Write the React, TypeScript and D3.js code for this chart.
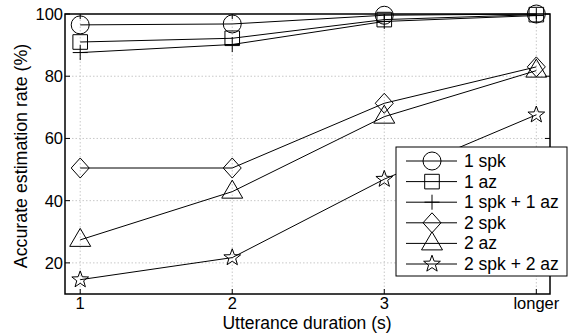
import React from 'react';
import * as d3 from 'd3';

const categories = ['1', '2', '3', 'longer'];
const yTicks = [20, 40, 60, 80, 100];

const oneSpk = [96.5, 96.8, 99.6, 100];
const oneAz = [91.0, 92.2, 98.2, 99.8];
const oneSpkOneAz = [87.6, 90.2, 97.6, 99.5];
const twoSpk = [50.5, 50.5, 71.3, 83.0];
const twoAz = [27.4, 42.9, 67.0, 81.8];
const twoSpkTwoAz = [14.6, 21.7, 46.9, 67.6];

const seriesNames = ['1 spk', '1 az', '1 spk + 1 az', '2 spk', '2 az', '2 spk + 2 az'];
const seriesValues = [oneSpk, oneAz, oneSpkOneAz, twoSpk, twoAz, twoSpkTwoAz];
const markerKinds = ['circle', 'square', 'plus', 'diamond', 'triangle', 'star'];

const W = 568;
const H = 334;
const margin = { left: 65, right: 18, top: 14, bottom: 40 };
const font = '"Liberation Sans", Arial, Helvetica, sans-serif';

function markerPath(kind: string): string {
  switch (kind) {
    case 'circle': {
      const p = d3.path();
      p.arc(0, 0, 9, 0, Math.PI * 2);
      return p.toString();
    }
    case 'square':
      return 'M-7.3,-7.3H7.3V7.3H-7.3Z';
    case 'plus':
      return 'M-7.5,0H7.5M0,-7.5V7.5';
    case 'diamond':
      return 'M0,-10L9,0L0,10L-9,0Z';
    case 'triangle':
      return 'M0,-11.5L10.5,6.5L-10.5,6.5Z';
    case 'star': {
      const p = d3.path();
      for (let i = 0; i < 10; i++) {
        const r = i % 2 === 0 ? 8.8 : 3.6;
        const a = -Math.PI / 2 + (i * Math.PI) / 5;
        const px = r * Math.cos(a);
        const py = r * Math.sin(a);
        if (i === 0) p.moveTo(px, py);
        else p.lineTo(px, py);
      }
      p.closePath();
      return p.toString();
    }
  }
  return '';
}

export default function App() {
  const x = d3.scaleLinear().domain([0.9, 4.09]).range([margin.left, W - margin.right]);
  const y = d3.scaleLinear().domain([10, 100]).range([H - margin.bottom, margin.top]);
  const line = d3
    .line<number>()
    .x((_, i) => x(i + 1))
    .y((d) => y(d));

  const x0 = margin.left;
  const x1 = W - margin.right;
  const y0 = H - margin.bottom;
  const y1 = margin.top;

  const legend = { x: 396, y: 147, w: 171, h: 129, row: 20.6 };

  return (
    <svg
      width={W}
      height={H}
      style={{ position: 'absolute', left: 0, top: 0, background: '#fff' }}
      fontFamily={font}
    >
      {/* grid */}
      {categories.map((c, i) => (
        <line
          key={'gx' + c}
          x1={x(i + 1)}
          x2={x(i + 1)}
          y1={y0}
          y2={y1}
          stroke="#c8c8c8"
          strokeDasharray="1.5,2"
        />
      ))}
      {yTicks.slice(0, -1).map((t) => (
        <line
          key={'gy' + t}
          x1={x0}
          x2={x1}
          y1={y(t)}
          y2={y(t)}
          stroke="#c8c8c8"
          strokeDasharray="1.5,2"
        />
      ))}

      {/* ticks */}
      {categories.map((c, i) => (
        <g key={'tx' + c}>
          <line x1={x(i + 1)} x2={x(i + 1)} y1={y0} y2={y0 - 5} stroke="#000" />
          <line x1={x(i + 1)} x2={x(i + 1)} y1={y1} y2={y1 + 5} stroke="#000" />
          <text x={x(i + 1)} y={309} fontSize={16.5} textAnchor="middle">
            {c}
          </text>
        </g>
      ))}
      {yTicks.map((t) => (
        <g key={'ty' + t}>
          <line x1={x0} x2={x0 + 5} y1={y(t)} y2={y(t)} stroke="#000" />
          <line x1={x1} x2={x1 - 5} y1={y(t)} y2={y(t)} stroke="#000" />
          <text x={63} y={y(t) + 6} fontSize={16.5} textAnchor="end">
            {t}
          </text>
        </g>
      ))}

      {/* series */}
      {seriesValues.map((vals, si) => (
        <g key={'s' + si}>
          <path d={line(vals) || ''} fill="none" stroke="#000" strokeWidth={1} />
          {vals.map((v, i) => (
            <path
              key={i}
              d={markerPath(markerKinds[si])}
              transform={`translate(${x(i + 1)},${y(v)})`}
              fill="none"
              stroke="#000"
              strokeWidth={1}
            />
          ))}
        </g>
      ))}

      {/* frame */}
      <rect x={x0} y={y1} width={x1 - x0} height={y0 - y1} fill="none" stroke="#000" strokeWidth={1.5} />

      {/* axis labels */}
      <text x={307} y={328.5} fontSize={17.5} textAnchor="middle">
        Utterance duration (s)
      </text>
      <text
        transform={`translate(27,156) rotate(-90)`}
        fontSize={17.8}
        textAnchor="middle"
      >
        Accurate estimation rate (%)
      </text>

      {/* legend */}
      <rect x={legend.x} y={legend.y} width={legend.w} height={legend.h} fill="#fff" stroke="#000" strokeWidth={1} />
      {seriesNames.map((name, i) => {
        const cy = legend.y + 14 + i * legend.row;
        return (
          <g key={'l' + name}>
            <line x1={406} x2={457} y1={cy} y2={cy} stroke="#000" />
            <path d={markerPath(markerKinds[i])} transform={`translate(432,${cy})`} fill="none" stroke="#000" />
            <text x={464} y={cy + 6} fontSize={17.5}>
              {name}
            </text>
          </g>
        );
      })}
    </svg>
  );
}
